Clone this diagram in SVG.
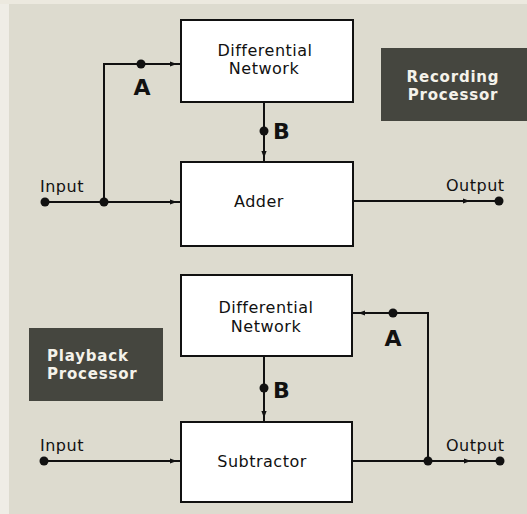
<svg xmlns="http://www.w3.org/2000/svg" width="527" height="514" viewBox="0 0 527 514">
<defs>
<path id="ah" d="M-7,-2.6 L0,0 L-7,2.6 z" fill="#111"/>
</defs>
<style>
.bg{fill:#dddbcf}
.box{fill:#ffffff;stroke:#111;stroke-width:2}
.dark{fill:#45463f}
.t{font-family:"DejaVu Sans",Arial,sans-serif;font-size:16px;letter-spacing:0.5px;fill:#111;text-anchor:middle}
.io{font-family:"DejaVu Sans",Arial,sans-serif;font-size:16px;letter-spacing:0.5px;fill:#111}
.lbl{font-family:"DejaVu Sans",Arial,sans-serif;font-size:22px;font-weight:bold;fill:#111}
.w{font-family:"DejaVu Sans",Arial,sans-serif;font-size:15px;font-weight:bold;letter-spacing:0.8px;fill:#f4f2ea}
.ln{fill:none;stroke:#111;stroke-width:2}
.dot{fill:#111}
</style>
<rect class="bg" x="0" y="0" width="527" height="514"/>
<rect x="0" y="0" width="9" height="514" fill="#efede6"/>
<rect x="0" y="0" width="527" height="4" fill="#ece9df"/>

<g id="connectors">
<!-- top -->
<path class="ln" d="M45,202 L181,202"/>
<use href="#ah" x="177" y="202"/>
<path class="ln" d="M104,202 L104,64 L181,64"/>
<use href="#ah" x="177" y="64"/>
<path class="ln" d="M264,102 L264,162"/>
<use href="#ah" transform="translate(264,158) rotate(90)"/>
<path class="ln" d="M353,201 L499,201"/>
<use href="#ah" x="470" y="201"/>
<circle class="dot" cx="45" cy="202" r="4.5"/>
<circle class="dot" cx="104" cy="202" r="4.5"/>
<circle class="dot" cx="141" cy="64" r="4.5"/>
<circle class="dot" cx="264" cy="131" r="4.5"/>
<circle class="dot" cx="499" cy="201" r="4.5"/>
<!-- bottom -->
<path class="ln" d="M44,461 L181,461"/>
<use href="#ah" x="177" y="461"/>
<path class="ln" d="M264,356 L264,422"/>
<use href="#ah" transform="translate(264,418) rotate(90)"/>
<path class="ln" d="M352,461 L500,461"/>
<use href="#ah" x="471" y="461"/>
<path class="ln" d="M428,461 L428,313 L352,313"/>
<use href="#ah" transform="translate(358,313) rotate(180)"/>
<circle class="dot" cx="44" cy="461" r="4.5"/>
<circle class="dot" cx="428" cy="461" r="4.5"/>
<circle class="dot" cx="393" cy="313" r="4.5"/>
<circle class="dot" cx="264" cy="388" r="4.5"/>
<circle class="dot" cx="500" cy="461" r="4.5"/>
</g>

<g id="diff-top">
<rect class="box" x="181" y="20" width="172" height="82"/>
<text class="t" x="265" y="56">Differential</text>
<text class="t" x="264" y="74">Network</text>
</g>
<g id="adder">
<rect class="box" x="181" y="162" width="172" height="84"/>
<text class="t" x="259" y="207">Adder</text>
</g>
<g id="recording">
<rect class="dark" x="381" y="48" width="146" height="73"/>
<text class="w" x="453" y="82" text-anchor="middle">Recording</text>
<text class="w" x="453" y="100" text-anchor="middle">Processor</text>
</g>
<g id="diff-bottom">
<rect class="box" x="181" y="275" width="171" height="81"/>
<text class="t" x="266" y="313">Differential</text>
<text class="t" x="266" y="332">Network</text>
</g>
<g id="subtractor">
<rect class="box" x="181" y="422" width="171" height="80"/>
<text class="t" x="262" y="467">Subtractor</text>
</g>
<g id="playback">
<rect class="dark" x="29" y="328" width="134" height="73"/>
<text class="w" x="47" y="361">Playback</text>
<text class="w" x="47" y="379">Processor</text>
</g>
<g id="labels">
<text class="io" x="40" y="192">Input</text>
<text class="io" x="446" y="191">Output</text>
<text class="io" x="40" y="451">Input</text>
<text class="io" x="446" y="451">Output</text>
<text class="lbl" x="142" y="95" text-anchor="middle">A</text>
<text class="lbl" x="273" y="139">B</text>
<text class="lbl" x="393" y="346" text-anchor="middle">A</text>
<text class="lbl" x="273" y="398">B</text>
</g>
</svg>
